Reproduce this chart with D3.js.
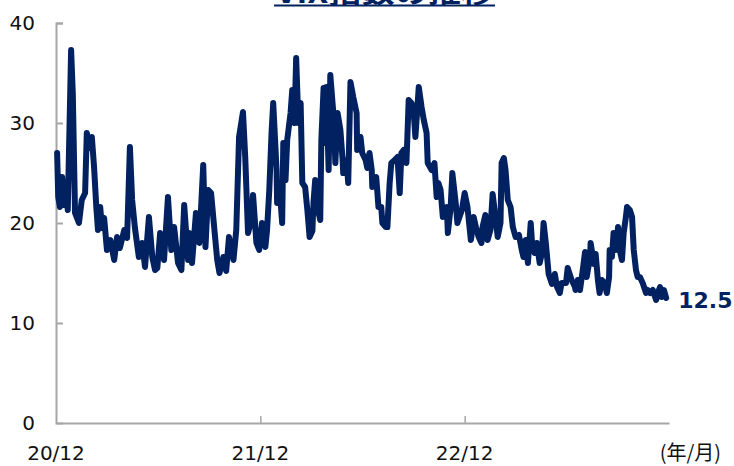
<!DOCTYPE html>
<html>
<head>
<meta charset="utf-8">
<script src="https://cdn.jsdelivr.net/npm/d3@7"></script>
<style>
  body { margin: 0; background: #fff; }
  svg { display: block; }
</style>
</head>
<body>
<svg width="734" height="466"></svg>
<script>
const TITLE = "VIX指数の推移";
const LAST_LABEL = "12.5";
const Y_TICKS = [0, 10, 20, 30, 40];
const X_TICKS = ["2020-12-01", "2021-12-01", "2022-12-01"];
const X_TICK_LABELS = ["20/12", "21/12", "22/12"];
const X_UNIT = "(年/月)";

const DATES = [
  "2020-12-03", "2020-12-05", "2020-12-08", "2020-12-12", "2020-12-15", "2020-12-19", "2020-12-22", "2020-12-28",
  "2020-12-31", "2021-01-04", "2021-01-11", "2021-01-16", "2021-01-22", "2021-01-25", "2021-01-31", "2021-02-03",
  "2021-02-07", "2021-02-11", "2021-02-14", "2021-02-18", "2021-02-21", "2021-02-25", "2021-03-02", "2021-03-08",
  "2021-03-15", "2021-03-20", "2021-03-25", "2021-04-02", "2021-04-07", "2021-04-12", "2021-04-16", "2021-04-21",
  "2021-04-28", "2021-05-04", "2021-05-09", "2021-05-16", "2021-05-22", "2021-05-27", "2021-05-31", "2021-06-05",
  "2021-06-12", "2021-06-19", "2021-06-25", "2021-06-30", "2021-07-07", "2021-07-13", "2021-07-18", "2021-07-25",
  "2021-07-27", "2021-08-01", "2021-08-08", "2021-08-14", "2021-08-21", "2021-08-25", "2021-08-30", "2021-09-04",
  "2021-09-10", "2021-09-15", "2021-09-19", "2021-09-26", "2021-10-01", "2021-10-06", "2021-10-14", "2021-10-19",
  "2021-10-24", "2021-10-31", "2021-11-04", "2021-11-09", "2021-11-15", "2021-11-18", "2021-11-24", "2021-11-29",
  "2021-12-04", "2021-12-10", "2021-12-13", "2021-12-17", "2021-12-21", "2021-12-24", "2021-12-30", "2021-12-31",
  "2022-01-06", "2022-01-09", "2022-01-11", "2022-01-15", "2022-01-18", "2022-01-24", "2022-01-27", "2022-01-31",
  "2022-02-03", "2022-02-07", "2022-02-11", "2022-02-14", "2022-02-19", "2022-02-23", "2022-02-27", "2022-03-04",
  "2022-03-06", "2022-03-09", "2022-03-13", "2022-03-18", "2022-03-20", "2022-03-24", "2022-03-27", "2022-03-29",
  "2022-04-02", "2022-04-05", "2022-04-11", "2022-04-14", "2022-04-18", "2022-04-23", "2022-04-27", "2022-04-28",
  "2022-05-04", "2022-05-07", "2022-05-11", "2022-05-16", "2022-05-22", "2022-05-23", "2022-05-29", "2022-06-01",
  "2022-06-07", "2022-06-10", "2022-06-14", "2022-06-18", "2022-06-19", "2022-06-26", "2022-06-30", "2022-07-05",
  "2022-07-07", "2022-07-13", "2022-07-16", "2022-07-20", "2022-07-23", "2022-07-29", "2022-08-03", "2022-08-07",
  "2022-08-10", "2022-08-14", "2022-08-19", "2022-08-23", "2022-08-28", "2022-09-01", "2022-09-04", "2022-09-10",
  "2022-09-15", "2022-09-19", "2022-09-24", "2022-09-26", "2022-10-03", "2022-10-08", "2022-10-12", "2022-10-15",
  "2022-10-19", "2022-10-23", "2022-10-30", "2022-11-01", "2022-11-06", "2022-11-09", "2022-11-15", "2022-11-18",
  "2022-11-26", "2022-12-01", "2022-12-06", "2022-12-12", "2022-12-13", "2022-12-17", "2022-12-21", "2022-12-26",
  "2022-12-31", "2023-01-02", "2023-01-07", "2023-01-11", "2023-01-16", "2023-01-20", "2023-01-25", "2023-01-29",
  "2023-02-03", "2023-02-05", "2023-02-09", "2023-02-12", "2023-02-16", "2023-02-21", "2023-02-25", "2023-03-02",
  "2023-03-08", "2023-03-13", "2023-03-16", "2023-03-20", "2023-03-24", "2023-03-29", "2023-03-31", "2023-04-05",
  "2023-04-09", "2023-04-14", "2023-04-18", "2023-04-21", "2023-04-25", "2023-04-30", "2023-05-06", "2023-05-11",
  "2023-05-15", "2023-05-20", "2023-05-23", "2023-05-31", "2023-06-03", "2023-06-10", "2023-06-16", "2023-06-17",
  "2023-06-21", "2023-06-25", "2023-06-30", "2023-07-04", "2023-07-07", "2023-07-13", "2023-07-14", "2023-07-20",
  "2023-07-23", "2023-07-27", "2023-07-30", "2023-08-03", "2023-08-08", "2023-08-12", "2023-08-16", "2023-08-17",
  "2023-08-21", "2023-08-24", "2023-08-28", "2023-09-01", "2023-09-04", "2023-09-08", "2023-09-11", "2023-09-15",
  "2023-09-17", "2023-09-22", "2023-09-26", "2023-09-29", "2023-10-03", "2023-10-06", "2023-10-10", "2023-10-15",
  "2023-10-21", "2023-10-24", "2023-10-28", "2023-11-02", "2023-11-08", "2023-11-11", "2023-11-15", "2023-11-18",
  "2023-11-22", "2023-11-26"
];

const VIX = [
  27.0, 22.6, 21.6, 24.6, 21.8, 24.0, 21.3, 37.3,
  33.0, 21.0, 20.0, 22.3, 23.0, 29.0, 27.5, 28.6,
  25.6, 21.6, 19.3, 21.6, 19.5, 20.5, 17.3, 18.3,
  16.3, 18.6, 17.5, 19.3, 18.5, 27.6, 22.3, 19.5,
  16.6, 18.0, 15.6, 20.6, 16.6, 15.3, 15.5, 19.0,
  16.3, 22.6, 17.3, 19.6, 16.0, 15.3, 21.8, 16.3,
  19.0, 16.0, 21.0, 18.0, 25.8, 17.6, 23.3, 23.0,
  19.3, 16.3, 15.0, 16.6, 15.2, 18.6, 16.3, 19.3,
  28.6, 31.1, 26.6, 19.0, 20.3, 22.8, 18.0, 17.3,
  20.0, 17.6, 19.3, 23.3, 29.0, 32.0, 25.3, 22.0,
  22.3, 20.0, 28.0, 24.3, 28.3, 31.0, 33.3, 30.0,
  36.5, 30.0, 32.0, 24.0, 23.6, 21.3, 18.6, 19.2,
  22.1, 24.3, 21.6, 20.3, 28.3, 33.5, 28.0, 33.6,
  25.3, 34.8, 30.6, 26.0, 31.0, 29.3, 26.3, 25.0,
  26.3, 24.0, 34.1, 32.6, 31.0, 27.3, 28.6, 27.0,
  26.3, 25.5, 27.0, 25.3, 23.6, 24.6, 21.6, 21.6,
  20.0, 19.6, 19.6, 24.0, 26.0, 26.3, 26.6, 23.0,
  27.0, 27.3, 26.0, 32.3, 32.0, 31.0, 28.6, 33.6,
  31.6, 30.3, 29.0, 26.0, 25.3, 26.0, 22.6, 24.0,
  23.3, 20.6, 21.6, 19.0, 21.6, 25.0, 22.0, 20.0,
  21.3, 23.0, 21.6, 18.3, 18.6, 20.6, 19.6, 18.6,
  18.0, 19.6, 20.8, 18.3, 19.3, 22.9, 20.6, 18.6,
  20.0, 26.0, 26.5, 25.3, 22.3, 21.6, 19.6, 18.6,
  18.8, 17.3, 16.6, 18.3, 16.0, 20.0, 18.3, 17.0,
  18.0, 16.0, 17.0, 20.0, 18.0, 14.9, 13.9, 14.9,
  13.6, 13.0, 14.0, 14.0, 15.5, 14.3, 13.6, 13.3,
  14.3, 13.3, 15.3, 17.1, 14.6, 16.6, 18.0, 15.9,
  16.9, 14.3, 13.0, 14.3, 14.0, 13.0, 14.6, 17.3,
  16.6, 19.0, 17.3, 19.6, 17.3, 16.3, 19.0, 20.6,
  21.6, 21.3, 20.6, 17.3, 15.3, 14.6, 14.6, 14.0,
  13.0, 13.3, 13.0, 13.3, 12.3, 13.0, 13.6, 12.6,
  13.3, 12.5
];

const main = function() {
  const svg = d3.select("svg");
  const navy = "#022160";
  const axisGray = "#a6a6a6";
  const font = "'DejaVu Sans', Verdana, sans-serif";
  const parse = d3.timeParse("%Y-%m-%d");

  const left = 56;
  const right = 669;
  const top = 23;
  const bottom = 423;

  const x = d3
    .scaleTime()
    .domain([parse("2020-12-01"), parse("2023-12-01")])
    .range([left, right]);
  const y = d3
    .scaleLinear()
    .domain([0, 40])
    .range([bottom, top]);

  const data = DATES.map((d, i) => ({ date: parse(d), value: VIX[i] }));

  // title, mostly cut off at the top edge like the source image
  svg
    .append("text")
    .attr("x", 385)
    .attr("y", 3)
    .attr("text-anchor", "middle")
    .attr("textLength", 218)
    .attr("lengthAdjust", "spacingAndGlyphs")
    .attr("font-family", "'Noto Sans CJK JP', sans-serif")
    .attr("font-weight", "bold")
    .attr("font-size", 28)
    .attr("fill", navy)
    .text(TITLE);
  svg
    .append("line")
    .attr("x1", 274)
    .attr("x2", 495)
    .attr("y1", 5.5)
    .attr("y2", 5.5)
    .attr("stroke", navy)
    .attr("stroke-width", 2);

  // y axis
  const yAxis = svg
    .append("g")
    .attr("transform", `translate(${left},0)`)
    .call(
      d3
        .axisRight(y)
        .tickValues(Y_TICKS)
        .tickSize(7)
        .tickFormat("")
    );
  yAxis.select(".domain").attr("stroke", axisGray).attr("stroke-width", 2);
  yAxis.selectAll(".tick line").attr("stroke", axisGray).attr("stroke-width", 2);
  yAxis.selectAll(".tick").filter(d => d === 0).remove();

  svg
    .append("g")
    .selectAll("text")
    .data(Y_TICKS)
    .enter()
    .append("text")
    .attr("x", 35)
    .attr("y", d => y(d))
    .attr("dy", "0.36em")
    .attr("text-anchor", "end")
    .attr("font-family", font)
    .attr("font-size", 20)
    .attr("fill", "#111")
    .text(d => d);

  // x axis
  const xAxis = svg
    .append("g")
    .attr("transform", `translate(0,${bottom})`)
    .call(
      d3
        .axisTop(x)
        .tickValues(X_TICKS.map(parse))
        .tickSize(7)
        .tickSizeOuter(0)
        .tickFormat("")
    );
  xAxis.select(".domain").attr("stroke", axisGray).attr("stroke-width", 2);
  xAxis.selectAll(".tick line").attr("stroke", axisGray).attr("stroke-width", 1.5);
  xAxis.selectAll(".tick").filter((d, i) => i === 0).select("line").remove();

  svg
    .append("g")
    .selectAll("text")
    .data(X_TICKS)
    .enter()
    .append("text")
    .attr("x", d => x(parse(d)))
    .attr("y", 453)
    .attr("dy", "0.36em")
    .attr("text-anchor", "middle")
    .attr("font-family", font)
    .attr("font-size", 20)
    .attr("fill", "#111")
    .text((d, i) => X_TICK_LABELS[i]);

  svg
    .append("text")
    .attr("x", 721)
    .attr("y", 453)
    .attr("dy", "0.36em")
    .attr("text-anchor", "end")
    .attr("font-family", "'Noto Sans CJK JP', sans-serif")
    .attr("font-size", 20)
    .attr("fill", "#111")
    .text(X_UNIT);

  // VIX line
  const line = d3
    .line()
    .x(d => x(d.date))
    .y(d => y(d.value));

  svg
    .append("path")
    .datum(data)
    .attr("d", line)
    .attr("fill", "none")
    .attr("stroke", navy)
    .attr("stroke-width", 6)
    .attr("stroke-linejoin", "round")
    .attr("stroke-linecap", "round");

  const last = data[data.length - 1];
  svg
    .append("text")
    .attr("x", x(last.date) + 12)
    .attr("y", y(last.value) + 2)
    .attr("dy", "0.36em")
    .attr("font-family", font)
    .attr("font-weight", "bold")
    .attr("font-size", 22)
    .attr("fill", navy)
    .text(LAST_LABEL);
};

window.onload = main;
</script>
</body>
</html>
